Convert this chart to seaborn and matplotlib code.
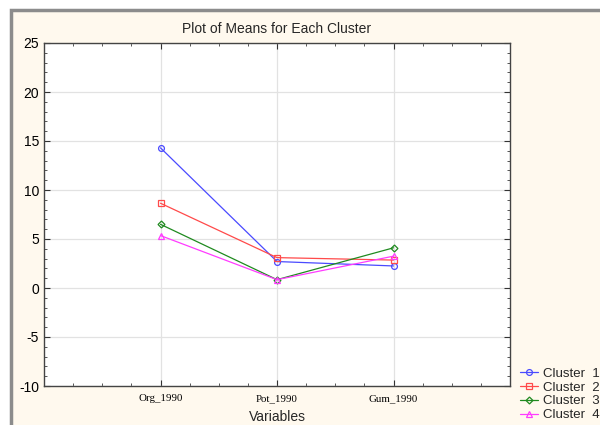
import matplotlib
matplotlib.use('Agg')
import matplotlib.pyplot as plt
import seaborn as sns
import pandas as pd
from matplotlib.patches import Rectangle
from matplotlib.ticker import MultipleLocator, FixedLocator

# ---------------- Data ----------------
variables = ["Org_1990", "Pot_1990", "Gum_1990"]
cluster1 = [14.3, 2.7, 2.25]
cluster2 = [8.65, 3.1, 2.85]
cluster3 = [6.5, 0.85, 4.1]
cluster4 = [5.35, 0.85, 3.25]

clusters = ["Cluster  1", "Cluster  2", "Cluster  3", "Cluster  4"]
series = [cluster1, cluster2, cluster3, cluster4]
colors = ["#4a4aff", "#ff4a4a", "#1f8a1f", "#ff3cff"]
markers = ["o", "s", "D", "^"]
msizes = [4.2, 4.2, 3.5, 4.2]

sns.set_style("white")
plt.rcParams['font.family'] = ['Liberation Sans', 'DejaVu Sans']
plt.rcParams['axes.unicode_minus'] = False

fig = plt.figure(figsize=(6, 4.25), dpi=100)
fig.patch.set_facecolor("white")
# cream panel with gray frame, behind the axes
fig.patches.append(Rectangle((10.5 / 600, -0.05), 1.1, 1 - 10.5 / 425 + 0.05,
                             transform=fig.transFigure, facecolor="#fff9ee",
                             edgecolor="#8c8c8c", linewidth=2.5, zorder=-10))

ax = fig.add_axes([44 / 600, 39 / 425, 466 / 600, 343 / 425])
ax.set_facecolor("white")

for name, vals, c, m, ms in zip(clusters, series, colors, markers, msizes):
    df = pd.DataFrame({"Variable": variables, "Mean": vals})
    sns.lineplot(data=df, x="Variable", y="Mean", ax=ax, color=c, marker=m,
                 markersize=ms, markerfacecolor="none", markeredgecolor=c,
                 markeredgewidth=0.9, linewidth=0.9, label=name, sort=False)

ax.set_xlim(-1, 3)
ax.set_ylim(-10, 25)
ax.xaxis.set_major_locator(FixedLocator([0, 1, 2]))
ax.set_xticklabels(variables, fontfamily="Liberation Serif", fontsize=7.8)
ax.xaxis.set_minor_locator(MultipleLocator(0.25))
ax.yaxis.set_major_locator(MultipleLocator(5))
ax.yaxis.set_minor_locator(MultipleLocator(1))
ax.tick_params(axis="y", which="major", labelsize=10, direction="in", length=4,
               left=True, right=True, width=0.8, colors="#333333", labelcolor="black")
ax.tick_params(axis="x", which="major", direction="in", length=4,
               bottom=True, top=True, width=0.8, colors="#333333", labelcolor="black", pad=6)
ax.tick_params(which="minor", direction="in", length=2, left=True, right=True,
               bottom=True, top=True, width=0.7, colors="#555555")
ax.grid(True, which="major", color="#e2e2e2", linewidth=0.9)
ax.set_axisbelow(True)
for s in ax.spines.values():
    s.set_color("#444444")
    s.set_linewidth(1.0)
    s.set_visible(True)

ax.set_title("Plot of Means for Each Cluster", fontsize=10, pad=7)
ax.set_xlabel("Variables", fontsize=10, labelpad=5)
ax.set_ylabel("")

ax.legend(loc="lower left", bbox_to_anchor=(0.852, -0.013),
          bbox_transform=fig.transFigure, frameon=False, fontsize=9.5,
          handlelength=1.3, handletextpad=0.4, labelspacing=0.12, borderpad=0.2)

plt.savefig("out.png", dpi=100, facecolor=fig.get_facecolor())
plt.close()
